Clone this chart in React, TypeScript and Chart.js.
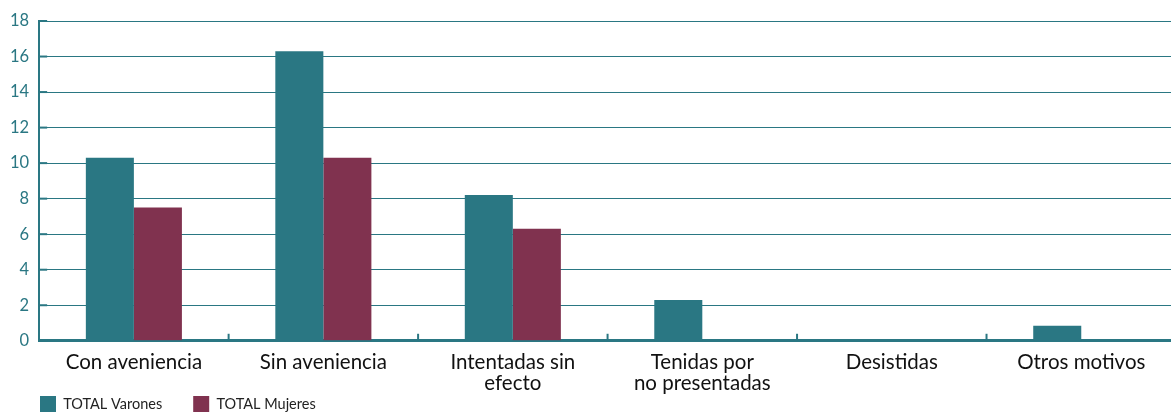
import React, { useEffect, useRef } from "react";
import { Chart, registerables } from "chart.js";

Chart.register(...registerables);

const categories: (string | string[])[] = [
  "Con aveniencia",
  "Sin aveniencia",
  ["Intentadas sin", "efecto"],
  ["Tenidas por", "no presentadas"],
  "Desistidas",
  "Otros motivos",
];
const varones = [10.3, 16.3, 8.2, 2.3, 0, 0.85];
const mujeres = [7.5, 10.3, 6.3, 0, 0, 0];
const yTicks = [0, 2, 4, 6, 8, 10, 12, 14, 16, 18];
const seriesNames = ["TOTAL Varones", "TOTAL Mujeres"];

const TEAL = "#2a7783";
const MAROON = "#80324f";
const FONT = "Lato, 'Open Sans', sans-serif";

const axisTicks = {
  id: "axisTicks",
  afterDatasetsDraw(chart: any) {
    const { ctx, chartArea, scales } = chart;
    const x = scales.x;
    const y = scales.y;
    ctx.save();
    ctx.strokeStyle = TEAL;
    ctx.lineWidth = 2;
    for (let i = 1; i <= categories.length; i++) {
      const px =
        i < categories.length
          ? (x.getPixelForTick(i - 1) + x.getPixelForTick(i)) / 2
          : x.getPixelForTick(i - 1) + (x.getPixelForTick(i - 1) - x.getPixelForTick(i - 2)) / 2;
      ctx.beginPath();
      ctx.moveTo(px, chartArea.bottom);
      ctx.lineTo(px, chartArea.bottom - 7);
      ctx.stroke();
    }
    yTicks.forEach((v) => {
      const py = y.getPixelForValue(v);
      ctx.beginPath();
      ctx.moveTo(chartArea.left, py);
      ctx.lineTo(chartArea.left + 8, py);
      ctx.stroke();
    });
    ctx.restore();
  },
};

const legendShift = {
  id: "legendShift",
  afterLayout(chart: any) {
    const lg = chart.legend;
    if (!lg) return;
    const pad = lg.options.labels.padding;
    const dx = 40 - pad - lg.left;
    lg.left += dx;
    lg.right += dx;
    const dy = 396 - pad - lg.top;
    lg.top += dy;
    lg.bottom += dy;
  },
};

export default function App() {
  const ref = useRef<HTMLCanvasElement | null>(null);
  useEffect(() => {
    if (!ref.current) return;
    const chart = new Chart(ref.current, {
      type: "bar",
      data: {
        labels: categories as any,
        datasets: [
          {
            label: seriesNames[0],
            data: varones,
            backgroundColor: TEAL,
            borderWidth: 0,
            categoryPercentage: 0.507,
            barPercentage: 1,
          },
          {
            label: seriesNames[1],
            data: mujeres,
            backgroundColor: MAROON,
            borderWidth: 0,
            categoryPercentage: 0.507,
            barPercentage: 1,
          },
        ],
      },
      options: {
        animation: false,
        responsive: false,
        devicePixelRatio: 1,
        layout: { padding: { left: 0, top: 21, right: 4, bottom: 0 } },
        plugins: {
          tooltip: { enabled: false },
          legend: {
            position: "bottom",
            align: "start",
            labels: {
              boxWidth: 16,
              boxHeight: 16,
              padding: 31,
              color: "#222",
              font: { family: FONT, size: 14.5 },
            },
          },
        },
        scales: {
          x: {
            afterFit(scale: any) {
              scale.paddingLeft = 0;
              scale.paddingRight = 0;
            },
            grid: { display: false, drawTicks: false },
            border: { display: true, color: TEAL, width: 3 },
            ticks: {
              color: "#111",
              padding: 11,
              maxRotation: 0,
              autoSkip: false,
              font: { family: FONT, size: 20.5, lineHeight: 1.03 },
            },
          },
          y: {
            min: 0,
            max: 18,
            afterBuildTicks(scale: any) {
              scale.ticks = yTicks.map((v) => ({ value: v }));
            },
            grid: { color: TEAL, lineWidth: 1, drawTicks: false },
            border: { display: true, color: TEAL, width: 2 },
            ticks: {
              color: TEAL,
              padding: 10,
              autoSkip: false,
              font: { family: FONT, size: 16.5 },
            },
          },
        },
      },
      plugins: [axisTicks, legendShift],
    });
    return () => chart.destroy();
  }, []);
  return (
    <div style={{ position: "absolute", left: 0, top: 0, width: 1180, height: 462 }}>
      <canvas ref={ref} width={1180} height={462} />
    </div>
  );
}
